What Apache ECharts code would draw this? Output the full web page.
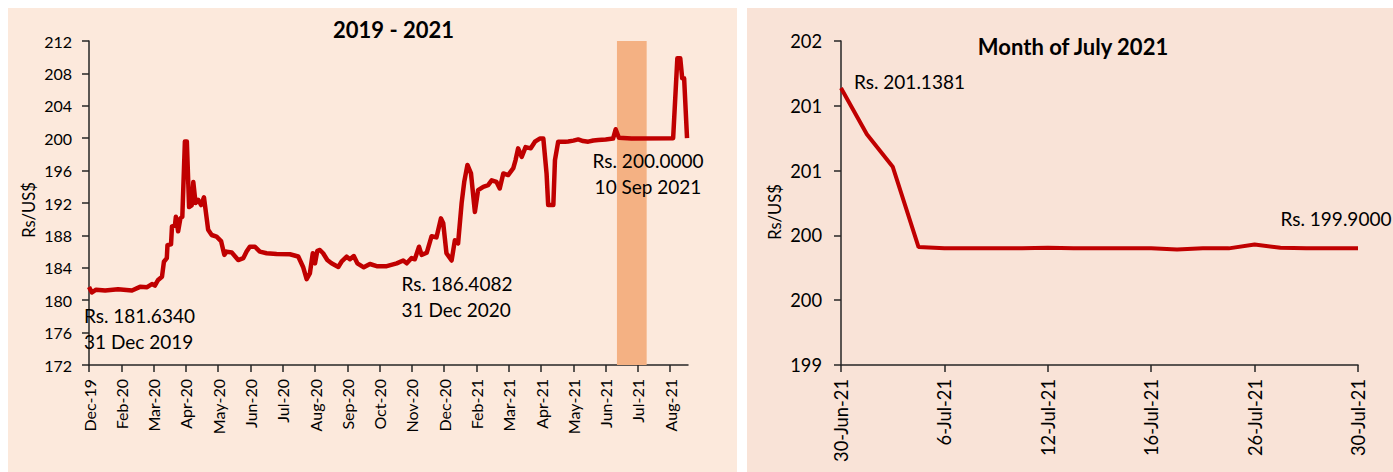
<!DOCTYPE html>
<html>
<head>
<meta charset="utf-8">
<script src="https://cdn.jsdelivr.net/npm/echarts@6/dist/echarts.min.js"></script>
<style>
html,body{margin:0;padding:0;background:#fff;}
#c{width:1393px;height:472px;}
</style>
</head>
<body>
<div id="c"></div>
<script>
// ---------- Data: left panel (2019 - 2021) ----------
const leftTickLabels = ['Dec-19','Feb-20','Mar-20','Apr-20','May-20','Jun-20','Jul-20','Aug-20','Sep-20','Oct-20','Nov-20','Dec-20','Feb-21','Mar-21','Apr-21','May-21','Jun-21','Jul-21','Aug-21'];
// position along the axis, in tick units (0 = Dec-19 tick)
const leftPos = [0,0.09,0.22,0.50,0.90,1.33,1.58,1.80,1.95,2.04,2.14,2.26,2.32,2.41,2.43,2.54,2.57,2.66,2.69,2.76,2.83,2.89,2.97,3.03,3.10,3.18,3.23,3.30,3.38,3.47,3.56,3.69,3.80,3.95,4.09,4.19,4.26,4.42,4.62,4.78,4.88,4.98,5.14,5.29,5.50,5.81,6.22,6.48,6.63,6.74,6.84,6.93,7.00,7.07,7.15,7.25,7.38,7.51,7.72,7.82,7.98,8.08,8.20,8.31,8.51,8.70,8.91,9.22,9.53,9.73,9.84,9.99,10.09,10.22,10.30,10.46,10.61,10.76,10.90,10.97,11.07,11.23,11.33,11.43,11.54,11.62,11.72,11.83,11.95,12.05,12.21,12.36,12.47,12.62,12.72,12.83,12.98,13.14,13.21,13.29,13.40,13.52,13.68,13.81,13.96,14.07,14.17,14.22,14.38,14.43,14.53,14.74,14.84,15.00,15.15,15.30,15.46,15.62,15.77,16.00,16.23,16.31,16.41,16.80,18.09,18.22,18.31,18.37,18.43,18.52];
const leftRate = [181.63,180.95,181.3,181.2,181.35,181.2,181.65,181.6,182.0,181.8,182.5,182.9,184.75,185.2,186.8,186.9,189.1,189.2,190.3,188.5,190.1,190.3,199.6,199.6,191.5,191.7,194.6,192.0,192.4,191.75,192.7,188.7,188.05,187.85,187.3,185.6,186.0,185.9,184.96,185.2,186.0,186.6,186.6,186.0,185.8,185.7,185.67,185.4,184.1,182.6,183.3,185.8,184.55,186.1,186.2,185.8,184.96,184.55,184.1,184.75,185.37,185.05,185.45,184.55,184.06,184.47,184.2,184.2,184.55,184.9,184.55,185.2,185.05,186.6,185.6,185.86,187.9,187.75,190.1,189.5,185.8,184.9,187.4,187.0,192.0,194.6,196.7,195.65,190.9,193.6,194.0,194.2,194.8,194.6,193.8,195.65,195.45,196.3,197.3,198.75,197.7,198.9,198.75,199.57,199.96,199.96,195.65,191.75,191.75,197.3,199.57,199.57,199.6,199.7,199.85,199.65,199.57,199.72,199.78,199.85,199.96,201.1,200.06,199.96,200.0,209.86,209.86,207.4,207.4,200.0];
const julyBand = [16.35, 17.27];

// ---------- Data: right panel (Month of July 2021) ----------
const julyDates = ['30-Jun-21','1-Jul-21','2-Jul-21','5-Jul-21','6-Jul-21','7-Jul-21','8-Jul-21','9-Jul-21','12-Jul-21','13-Jul-21','14-Jul-21','15-Jul-21','16-Jul-21','19-Jul-21','20-Jul-21','22-Jul-21','26-Jul-21','27-Jul-21','28-Jul-21','29-Jul-21','30-Jul-21'];
const julyRate = [201.1381,200.78,200.53,199.91,199.90,199.90,199.90,199.90,199.905,199.90,199.90,199.90,199.90,199.892,199.90,199.90,199.93,199.905,199.90,199.90,199.90];

const leftTickValues = leftTickLabels.map((_, i) => i);
const FONT = 'Lato';
const AXIS_COLOR = '#262626';
const RED = '#C00000';

const chart = echarts.init(document.getElementById('c'), null, {renderer: 'svg'});

function txt(text, x, y, size, opts) {
  opts = opts || {};
  return {
    type: 'text', x: x, y: y, z: 100,
    rotation: opts.rotation || 0,
    style: {
      text: text, fontFamily: FONT, fontSize: size,
      fontWeight: opts.bold ? 'bold' : 'normal',
      fill: '#000', align: opts.align || 'left', verticalAlign: 'middle'
    }
  };
}

const option = {
  backgroundColor: '#fff',
  animation: false,
  grid: [
    {left: 89, right: 705, top: 41, bottom: 107},
    {left: 841, right: 35, top: 41, bottom: 107}
  ],
  xAxis: [
    {
      type: 'value', gridIndex: 0, min: 0, max: 18.55, interval: 1,
      axisLine: {show: true, lineStyle: {color: AXIS_COLOR, width: 1.5}},
      axisTick: {show: true, inside: false, length: 7, customValues: leftTickValues, lineStyle: {color: AXIS_COLOR, width: 1.5}},
      axisLabel: {customValues: leftTickValues, rotate: 90, margin: 14, color: '#000', fontFamily: FONT, fontSize: 16,
        formatter: v => leftTickLabels[Math.round(v)]},
      splitLine: {show: false}
    },
    {
      type: 'category', gridIndex: 1, data: julyDates, boundaryGap: false,
      axisLine: {show: true, lineStyle: {color: AXIS_COLOR, width: 1.5}},
      axisTick: {show: true, interval: 3, length: 7, lineStyle: {color: AXIS_COLOR, width: 1.5}},
      axisLabel: {interval: 3, rotate: 90, margin: 14, color: '#000', fontFamily: FONT, fontSize: 18.3},
      splitLine: {show: false}
    }
  ],
  yAxis: [
    {
      type: 'value', gridIndex: 0, min: 172, max: 212, interval: 4,
      axisLine: {show: true, lineStyle: {color: AXIS_COLOR, width: 1.5}},
      axisTick: {show: true, length: 7, lineStyle: {color: AXIS_COLOR, width: 1.5}},
      axisLabel: {margin: 17, color: '#000', fontFamily: FONT, fontSize: 16},
      splitLine: {show: false}
    },
    {
      type: 'value', gridIndex: 1, min: 199, max: 201.5, interval: 0.5,
      axisLine: {show: true, lineStyle: {color: AXIS_COLOR, width: 1.5}},
      axisTick: {show: true, length: 7, lineStyle: {color: AXIS_COLOR, width: 1.5}},
      axisLabel: {margin: 19, color: '#000', fontFamily: FONT, fontSize: 18.3,
        formatter: v => String(Math.round(v))},
      splitLine: {show: false}
    }
  ],
  series: [
    {
      type: 'line', xAxisIndex: 0, yAxisIndex: 0, z: 1, silent: true,
      data: [], symbol: 'none',
      markArea: {
        silent: true,
        itemStyle: {color: '#F4B183', opacity: 1},
        data: [[{xAxis: julyBand[0]}, {xAxis: julyBand[1]}]]
      }
    },
    {
      type: 'line', xAxisIndex: 0, yAxisIndex: 0, z: 5,
      data: leftPos.map((p, i) => [p, leftRate[i]]),
      symbol: 'none', lineStyle: {color: RED, width: 4.5, join: 'round'}
    },
    {
      type: 'line', xAxisIndex: 1, yAxisIndex: 1, z: 5,
      data: julyRate,
      symbol: 'none', lineStyle: {color: RED, width: 4}
    }
  ],
  graphic: [
    {type: 'rect', z: -10, shape: {x: 8, y: 8, width: 729, height: 464}, style: {fill: '#FCE9DC'}},
    {type: 'rect', z: -10, shape: {x: 747, y: 8, width: 646, height: 464}, style: {fill: '#F9E3D7'}},
    txt('2019 - 2021', 393.5, 29, 22, {bold: true, align: 'center'}),
    txt('Month of July 2021', 1073, 46, 22, {bold: true, align: 'center'}),
    txt('Rs/US$', 29, 210, 16.5, {rotation: Math.PI / 2, align: 'center'}),
    txt('Rs/US$', 775, 212, 16.5, {rotation: Math.PI / 2, align: 'center'}),
    txt('Rs. 181.6340', 84, 315, 19),
    txt('31 Dec 2019', 84, 341.5, 19),
    txt('Rs. 186.4082', 401.5, 283.5, 19),
    txt('31 Dec 2020', 401.5, 309.5, 19),
    txt('Rs. 200.0000', 648, 160, 19, {align: 'center'}),
    txt('10 Sep 2021', 648, 186, 19, {align: 'center'}),
    txt('Rs. 201.1381', 854, 81, 19),
    txt('Rs. 199.9000', 1280.5, 218, 19)
  ]
};
chart.setOption(option);
</script>
</body>
</html>
